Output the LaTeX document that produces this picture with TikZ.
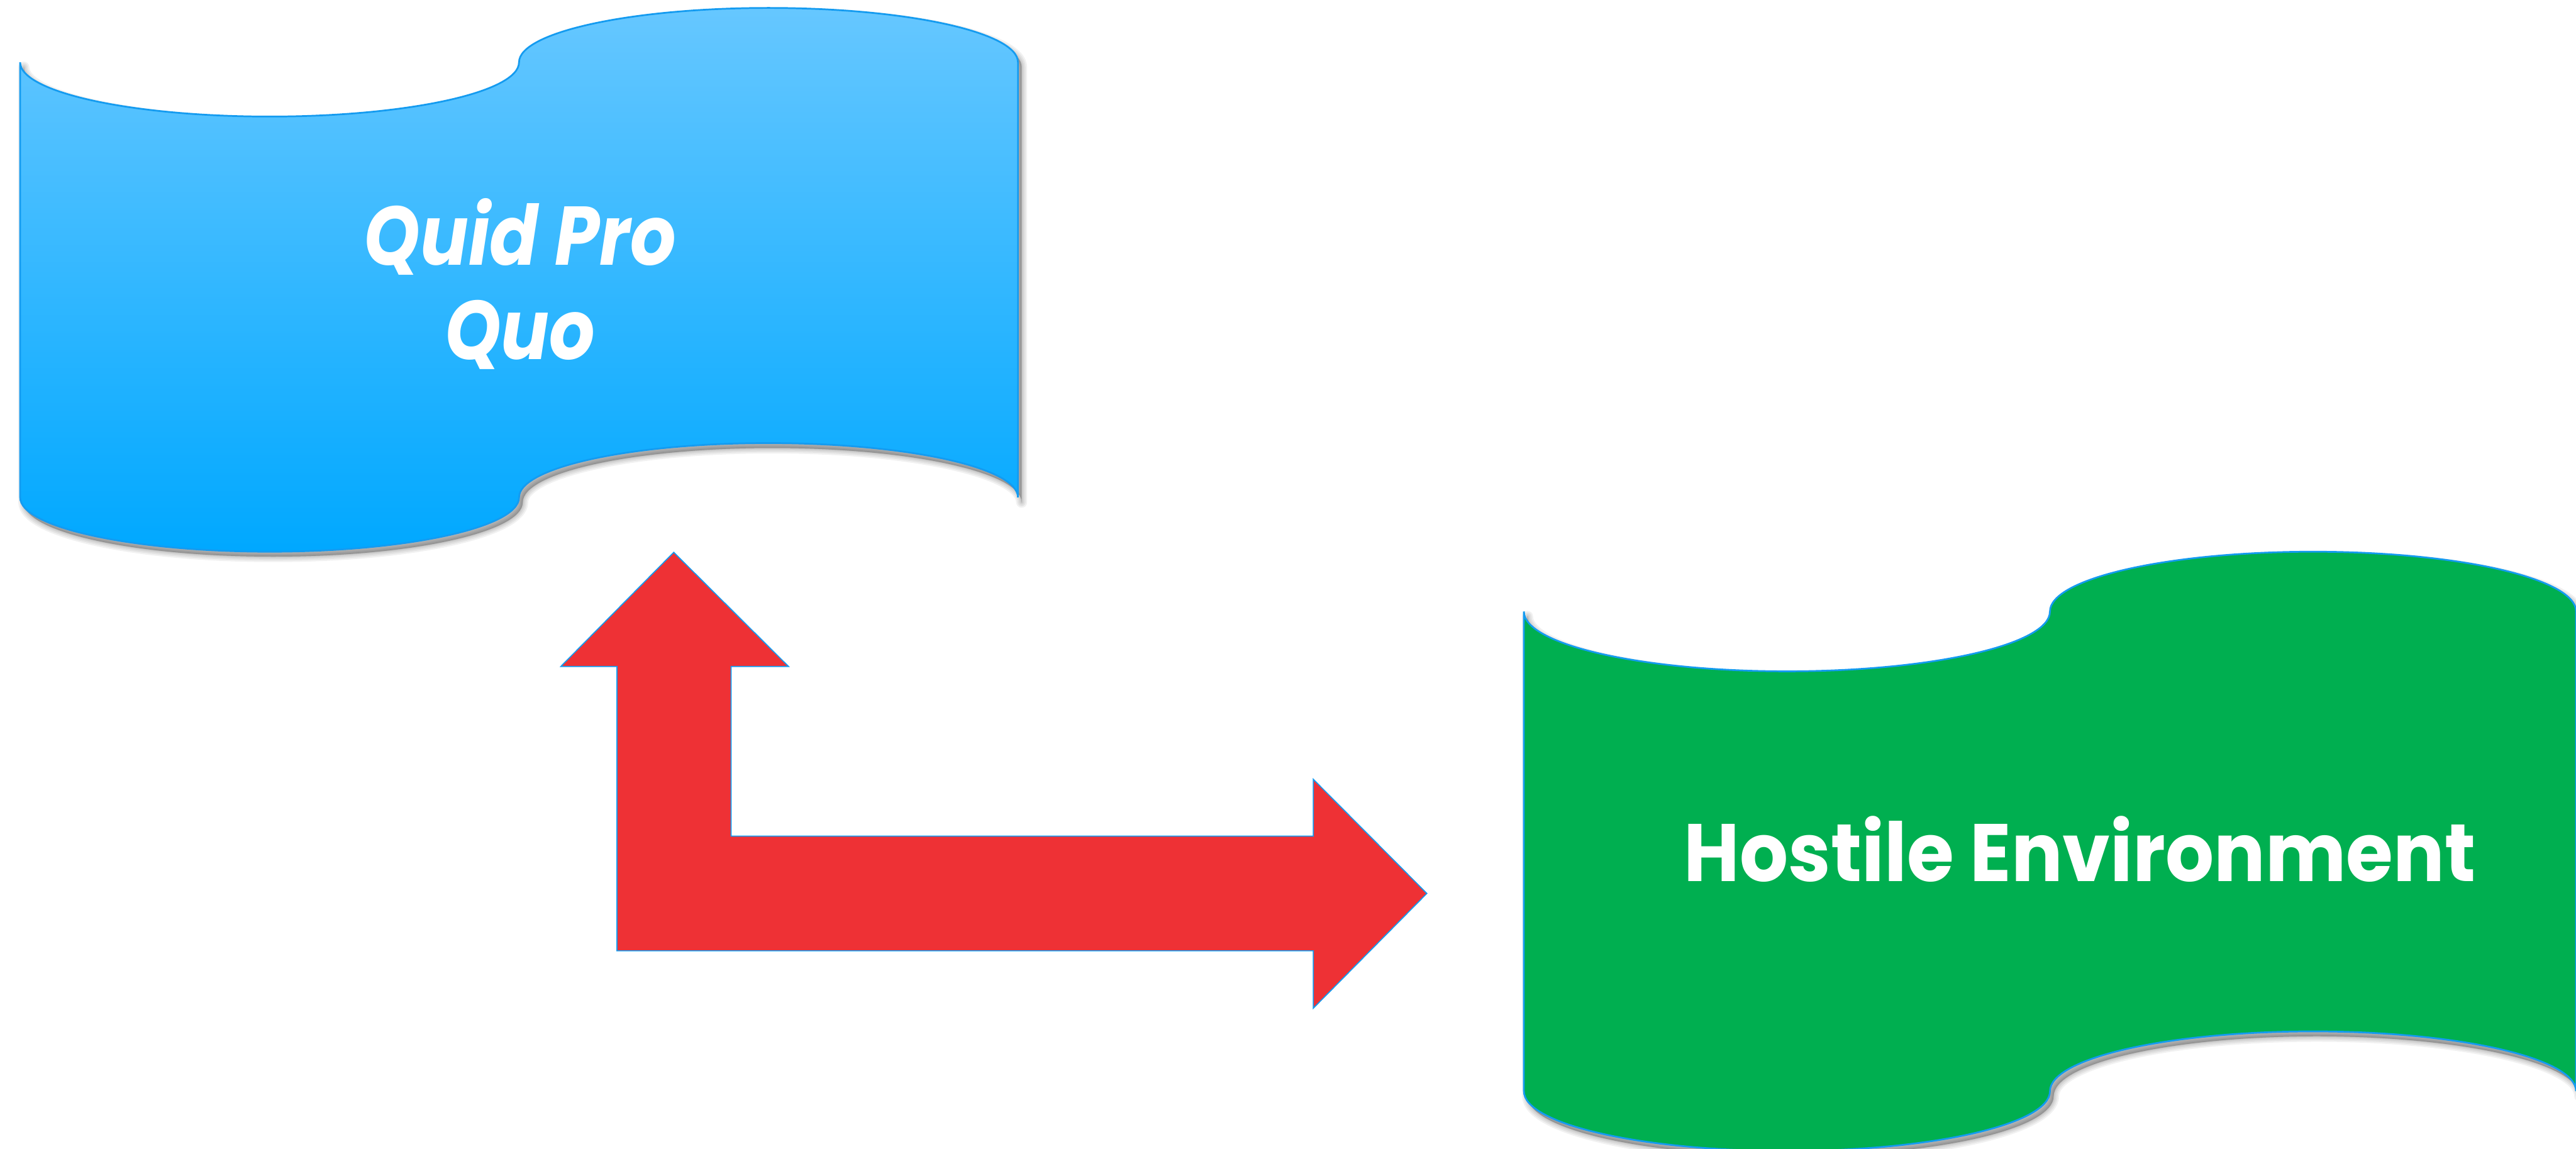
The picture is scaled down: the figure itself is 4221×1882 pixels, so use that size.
\documentclass[tikz,border=0pt]{standalone}
\usepackage{fontspec}
\usepackage{graphicx}
\newfontfamily\popfont{Poppins}
\definecolor{tapeTop}{RGB}{102,199,255}
\definecolor{tapeBottom}{RGB}{0,168,255}
\definecolor{edgeBlue}{RGB}{20,155,240}
\definecolor{envGreen}{RGB}{0,175,80}
\definecolor{arrowRed}{RGB}{238,49,53}

% punched-tape outline: left, right, top baseline, bottom baseline, wave amplitude, path options
\newcommand\tapepath[6]{%
  \pgfmathsetmacro\tq{(#2-#1)/4}%
  \path[#6] (#1,#3)
    arc[start angle=180,end angle=0,x radius=\tq,y radius=#5]
    arc[start angle=180,end angle=360,x radius=\tq,y radius=#5]
    -- (#2,#4)
    arc[start angle=0,end angle=-180,x radius=\tq,y radius=#5]
    arc[start angle=0,end angle=180,x radius=\tq,y radius=#5]
    -- cycle;}
% soft shadow built from stacked translucent copies
\newcommand\tapeshadow[5]{%
  \foreach \w in {18,13,8,4,1}{%
    \tapepath{#1}{#2}{#3}{#4}{#5}{fill=black,draw=black,opacity=0.055,line width=\w*0.2845pt,line join=round,xshift=0.06cm,yshift=-0.08cm}}}
% narrowed label line
\newcommand\narrow[2]{\scalebox{#1}[1]{#2}}

\tikzset{
  tapeedge/.style={draw=edgeBlue,line width=0.8pt},
  labeltext/.style={text=white,inner sep=0pt,align=center},
}

\begin{document}
\begin{tikzpicture}[x=0.01cm,y=-0.01cm]
\useasboundingbox (0,0) rectangle (4221,1882);
\fill[white] (0,0) rectangle (4221,1882);

% blue tape
\tapeshadow{33}{1668}{102}{815}{89}
\tapepath{33}{1668}{102}{815}{89}{top color=tapeTop,bottom color=tapeBottom,tapeedge}

% green tape
\tapeshadow{2497}{4221}{1002}{1788}{98}
\tapepath{2497}{4221}{1002}{1788}{98}{fill=envGreen,tapeedge}

% labels
\node[labeltext,font=\popfont\bfseries\itshape\fontsize{38.8}{43.8}\selectfont] (qpq) at (852,465) {\narrow{0.86}{Quid Pro}\\\narrow{0.86}{Quo}};
\node[labeltext,font=\popfont\bfseries\fontsize{38}{44}\selectfont,anchor=base] (hostile) at (3408,1444) {\narrow{0.935}{Hostile Environment}};

% bent double arrow between the two tapes
\coordinate (upTip) at (1104,905);
\coordinate (rightTip) at (2338,1464);
\fill[arrowRed,draw=edgeBlue,line width=0.5pt]
  (upTip) -- (1292,1092) -- (1198,1092) -- (1198,1370) -- (2152,1370)
  -- (2152,1277) -- (rightTip) -- (2152,1652) -- (2152,1558)
  -- (1011,1558) -- (1011,1092) -- (919,1092) -- cycle;
\end{tikzpicture}
\end{document}
